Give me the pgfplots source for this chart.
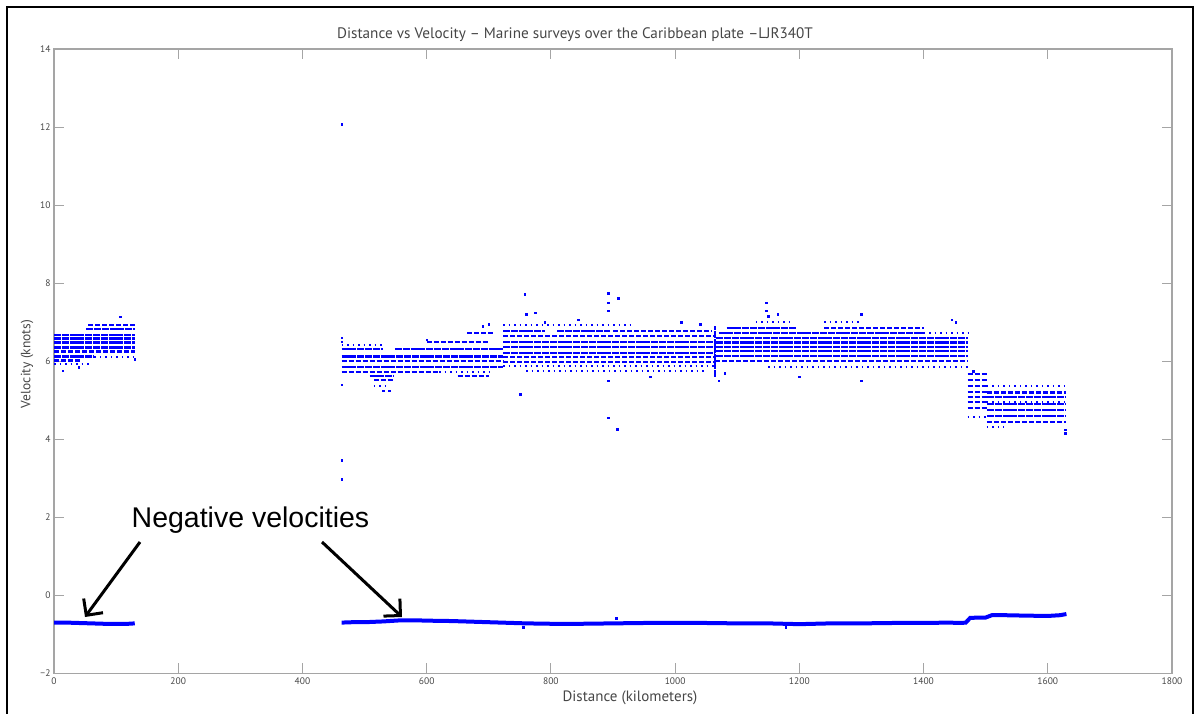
\documentclass[border=0pt]{standalone}
\usepackage{fontspec}
\setmainfont{PT Sans}
\newfontfamily\arialfont{Liberation Sans}
\usepackage{pgfplots}
\pgfplotsset{compat=1.18}
\usepackage{pgfplotstable}
\usetikzlibrary{arrows.meta}
\definecolor{axisgray}{RGB}{165,165,165}
\definecolor{textgray}{RGB}{70,70,70}
\definecolor{ptblue}{RGB}{0,0,255}

% dense stripes of quantised velocities (segments separated by nan rows)
\pgfplotstableread{
x y
52 6.83
130 6.83
nan nan
0 6.68
130 6.68
nan nan
0 6.58
130 6.58
nan nan
0 6.48
130 6.48
nan nan
0 6.35
130 6.35
nan nan
0 6.12
65 6.12
nan nan
463 6.32
530 6.32
nan nan
549 6.32
723 6.32
nan nan
463 6.12
723 6.12
nan nan
463 5.86
723 5.86
nan nan
508 5.62
546 5.62
nan nan
723 6.78
790 6.78
nan nan
810 6.78
895 6.78
nan nan
723 6.50
1064 6.50
nan nan
723 6.37
1064 6.37
nan nan
723 6.22
1064 6.22
nan nan
1064 5.60
1064 6.90
nan nan
1083 6.85
1196 6.85
nan nan
1070 6.72
1400 6.72
nan nan
1066 6.60
1471 6.60
nan nan
1066 6.48
1471 6.48
nan nan
1066 6.37
1471 6.37
nan nan
1066 6.26
1471 6.26
nan nan
1066 6.14
1471 6.14
nan nan
1502 5.08
1630 5.08
nan nan
1502 4.90
1630 4.90
nan nan
1502 4.75
1630 4.75
nan nan
1502 4.60
1630 4.60
}\densetab

\pgfplotstableread{
x y
55 6.93
130 6.93
nan nan
0 6.25
130 6.25
nan nan
0 6.02
45 6.02
nan nan
463 6.00
723 6.00
nan nan
463 5.73
620 5.73
nan nan
515 5.52
546 5.52
nan nan
650 5.62
700 5.62
nan nan
665 6.72
706 6.72
nan nan
600 6.50
700 6.50
nan nan
900 6.78
1060 6.78
nan nan
723 6.65
1064 6.65
nan nan
723 6.10
1064 6.10
nan nan
723 5.99
1064 5.99
nan nan
1240 6.85
1400 6.85
nan nan
1064 6.00
1471 6.00
nan nan
1471 5.67
1502 5.67
nan nan
1471 5.52
1502 5.52
nan nan
1471 5.37
1502 5.37
nan nan
1471 5.22
1502 5.22
nan nan
1471 5.09
1502 5.09
nan nan
1471 4.96
1502 4.96
nan nan
1471 4.80
1502 4.80
nan nan
1502 5.20
1630 5.20
nan nan
1502 4.45
1630 4.45
}\mediumtab

\pgfplotstableread{
x y
0 5.92
60 5.92
nan nan
65 6.12
130 6.12
nan nan
463 6.42
530 6.42
nan nan
515 5.37
540 5.37
nan nan
620 5.73
700 5.73
nan nan
723 6.93
930 6.93
nan nan
723 5.88
1064 5.88
nan nan
760 5.75
1050 5.75
nan nan
1130 7.00
1190 7.00
nan nan
1240 7.00
1300 7.00
nan nan
1150 5.85
1471 5.85
nan nan
1400 6.72
1471 6.72
nan nan
1502 5.37
1630 5.37
nan nan
1502 4.96
1630 4.96
nan nan
1502 4.32
1530 4.32
nan nan
1471 4.58
1502 4.58
}\sparsetab

\pgfplotstableread{
x y
107 7.14
14 5.76
130 6.05
40 5.85
463 12.08
463 3.47
463 2.98
463 5.40
463 6.60
463 6.50
690 6.90
700 6.95
530 5.25
540 5.25
600 6.55
758 7.72
751 5.15
760 7.20
775 7.25
790 7.00
844 7.07
892 7.75
892 7.50
892 7.30
908 7.62
892 4.55
907 4.26
892 5.50
960 5.60
1010 7.00
1040 6.95
1147 7.50
1147 7.30
1150 7.15
1165 7.20
1300 7.20
1300 5.50
1445 7.07
1452 7.00
1200 5.60
1080 5.70
1070 5.50
1628 4.16
1628 4.25
1480 5.75
755 -0.82
1178 -0.82
905 -0.58
}\outliertab

\begin{document}
\begin{tikzpicture}[x=1pt,y=1pt]
\useasboundingbox (0,0) rectangle (1195,713);
\draw[line width=2pt] (6.5,-2) -- (6.5,706) -- (1193,706) -- (1193,-2);
\begin{axis}[
  at={(54pt,39.7pt)}, anchor=south west, scale only axis,
  width=1118pt, height=624pt,
  xmin=0, xmax=1800, ymin=-2, ymax=14,
  xtick={0,200,...,1800}, ytick={-2,0,...,14},
  xticklabels={0,200,400,600,800,1000,1200,1400,1600,1800},
  yticklabels={−2,0,2,4,6,8,10,12,14},
  tick align=inside, major tick length=10pt,
  axis line style={axisgray, line width=1.6pt},
  tick style={axisgray, line width=1.2pt},
  tick label style={font=\fontsize{9.5}{11}\selectfont, text=textgray},
  /pgf/number format/assume math mode=true,
  xticklabel style={yshift=-0.5pt},
  clip=false,
  dense/.style={ptblue, line width=2.4pt, mark=none, unbounded coords=jump, dash pattern=on 7pt off 0.8pt},
  medium/.style={ptblue, line width=2.2pt, mark=none, unbounded coords=jump, dash pattern=on 5pt off 2pt},
  sparse/.style={ptblue, line width=2pt, mark=none, unbounded coords=jump, dash pattern=on 1.5pt off 4pt},
]
\addplot[dense] table[x=x,y=y] {\densetab};
\addplot[medium] table[x=x,y=y] {\mediumtab};
\addplot[sparse] table[x=x,y=y] {\sparsetab};
\addplot[only marks, mark=square*, mark size=0.8pt, ptblue] table[x=x,y=y] {\outliertab};
\addplot[ptblue, line width=4pt, mark=none] coordinates {
(0,-0.70) (20,-0.70) (40,-0.71) (60,-0.72) (80,-0.73) (100,-0.73) (120,-0.73) (130,-0.72)};
\addplot[ptblue, line width=4pt, mark=none] coordinates {
(463,-0.70) (480,-0.69) (500,-0.69) (530,-0.67) (560,-0.64) (580,-0.64) (600,-0.65)
(640,-0.66) (680,-0.68) (720,-0.70) (760,-0.72) (800,-0.73) (850,-0.73) (900,-0.72)
(950,-0.71) (1000,-0.71) (1050,-0.71) (1100,-0.72) (1150,-0.72) (1200,-0.74) (1250,-0.72)
(1300,-0.72) (1350,-0.71) (1400,-0.71) (1440,-0.70) (1460,-0.71) (1468,-0.70) (1475,-0.58)
(1490,-0.57) (1500,-0.57) (1510,-0.51) (1530,-0.51) (1560,-0.52) (1600,-0.53) (1620,-0.51) (1630,-0.48)};
\end{axis}
\node[text=textgray, font=\fontsize{15.2}{18}\selectfont] at (575,678) {Distance vs Velocity – Marine surveys over the Caribbean plate –LJR340T};
\node[text=textgray, font=\fontsize{15}{17}\selectfont] at (630,15) {Distance (kilometers)};
\node[text=textgray, font=\fontsize{13.5}{15}\selectfont, rotate=90] at (27,349) {Velocity (knots)};
\node[font=\arialfont\fontsize{28.5}{32}\selectfont] at (250.5,193) {Negative velocities};
\draw[line width=3pt, -{Straight Barb[length=12pt,width=24pt]}] (140,171) -- (85,96);
\draw[line width=3pt, -{Straight Barb[length=12pt,width=24pt]}] (322,171) -- (402,96);
\end{tikzpicture}
\end{document}
